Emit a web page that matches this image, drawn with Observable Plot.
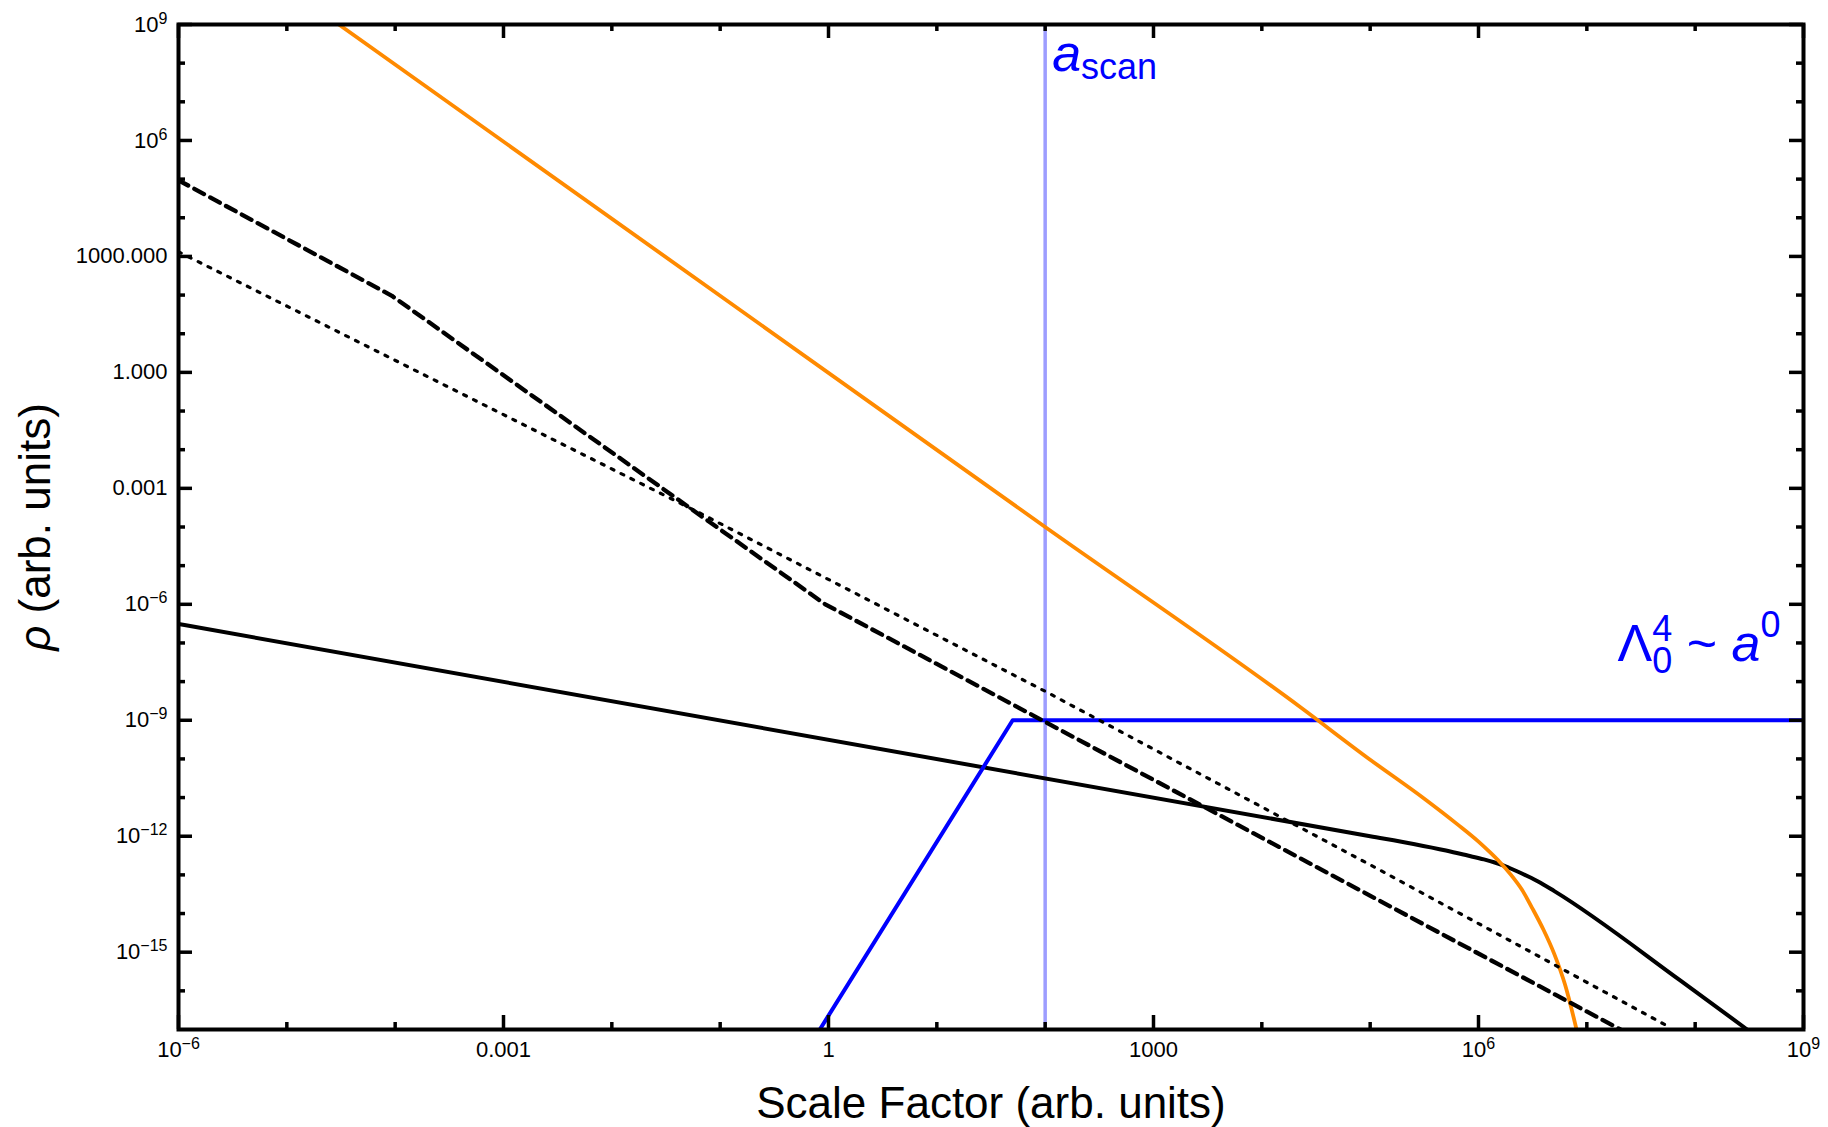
<!DOCTYPE html>
<html><head><meta charset="utf-8">
<script src="https://cdn.jsdelivr.net/npm/d3@7"></script>
<script src="https://cdn.jsdelivr.net/npm/@observablehq/plot@0.6"></script>
<style>html,body{margin:0;padding:0;background:#fff;} svg{display:block;}</style>
</head><body><div id="chart"></div>
<script>
// ---- data (as log10 exponents) ----
const xDomain = [1e-6, 1e9];
const yDomain = [1e-17, 1e9];
const xMajorTicks = [1e-6, 1e-3, 1, 1e3, 1e6, 1e9];
const xMajorLabels = ["10^−6", "0.001", "1", "1000", "10^6", "10^9"];
const xMinorTicks = [1e-5, 1e-4, 1e-2, 1e-1, 10, 100, 1e4, 1e5, 1e7, 1e8];
const yMajorTicks = [1e9, 1e6, 1e3, 1, 1e-3, 1e-6, 1e-9, 1e-12, 1e-15];
const yMajorLabels = ["10^9", "10^6", "1000.000", "1.000", "0.001", "10^−6", "10^−9", "10^−12", "10^−15"];
const yMinorTicks = [1e8, 1e7, 1e5, 1e4, 100, 10, 0.1, 0.01, 1e-4, 1e-5, 1e-7, 1e-8, 1e-10, 1e-11, 1e-13, 1e-14, 1e-16];

// orange curve (log10 a, log10 rho)
const orangeLogA   = [-4.52, 2.0, 4.36, 5.0, 5.5, 5.8, 6.0, 6.1, 6.2, 6.3, 6.4, 6.5, 6.6, 6.7, 6.8, 6.905];
const orangeLogRho = [9.0, -4.0, -8.67, -10.02, -11.03, -11.68, -12.14, -12.40, -12.68, -13.0, -13.38, -13.88, -14.42, -15.05, -15.85, -17.0];
// solid black curve
const blackLogA   = [-6.0, 5.0, 5.4, 5.7, 5.9, 6.05, 6.15, 6.25, 6.35, 6.45, 6.55, 6.7, 7.865, 8.48];
const blackLogRho = [-6.51, -12.0, -12.2, -12.37, -12.5, -12.6, -12.68, -12.78, -12.9, -13.03, -13.17, -13.42, -15.735, -17.0];
// dashed black
const dashedLogA   = [-6.0, -4.03, -0.03, 7.31];
const dashedLogRho = [4.97, 1.98, -6.0, -17.0];
// dotted black
const dottedLogA   = [-6.0, -1.18, 2.0, 5.1, 7.77];
const dottedLogRho = [3.12, -3.65, -8.25, -12.89, -16.95];
// blue
const blueLogA   = [-0.08, 1.70, 9.0];
const blueLogRho = [-17.0, -9.0, -9.0];
// a_scan
const aScan = 100;

const toRows = (lx, ly) => lx.map((x, i) => ({a: 10 ** x, rho: 10 ** ly[i]}));
const xLab = new Map(xMajorTicks.map((d, i) => [d, xMajorLabels[i]]));
const yLab = new Map(yMajorTicks.map((d, i) => [d, yMajorLabels[i]]));

const W = 1828, H = 1127;
const mL = 178, mR = 25, mT = 24, mB = 98;
const innerW = W - mL - mR, innerH = H - mT - mB;
const FONT = "'Liberation Sans', Arial, Helvetica, sans-serif";

const svg = Plot.plot({
  width: W, height: H,
  marginLeft: mL, marginRight: mR, marginTop: mT, marginBottom: mB,
  style: {fontFamily: FONT, background: "#fff", color: "#000"},
  x: {type: "log", domain: xDomain},
  y: {type: "log", domain: yDomain},
  marks: [
    Plot.ruleX([aScan], {x: d => d, stroke: "#9d9dff", strokeWidth: 3.5}),
    Plot.line(toRows(blackLogA, blackLogRho), {x: "a", y: "rho", stroke: "#000", strokeWidth: 4, curve: "monotone-x", clip: true}),
    Plot.line(toRows(blueLogA, blueLogRho), {x: "a", y: "rho", stroke: "#0000ff", strokeWidth: 4, clip: true}),
    Plot.line(toRows(orangeLogA, orangeLogRho), {x: "a", y: "rho", stroke: "#ff8a00", strokeWidth: 3.8, curve: "monotone-x", clip: true}),
    Plot.line(toRows(dashedLogA, dashedLogRho), {x: "a", y: "rho", stroke: "#000", strokeWidth: 4.3, strokeDasharray: "11,7", clip: true}),
    Plot.line(toRows(dottedLogA, dottedLogRho), {x: "a", y: "rho", stroke: "#000", strokeWidth: 3.2, strokeDasharray: "3,8", clip: true}),
    // ticks (inward, all four sides)
    Plot.tickX(xMajorTicks, {x: d => d, stroke: "#000", strokeWidth: 3.5, insetTop: innerH - 14}),
    Plot.tickX(xMajorTicks, {x: d => d, stroke: "#000", strokeWidth: 3.5, insetBottom: innerH - 14}),
    Plot.tickX(xMinorTicks, {x: d => d, stroke: "#000", strokeWidth: 3.5, insetTop: innerH - 7}),
    Plot.tickX(xMinorTicks, {x: d => d, stroke: "#000", strokeWidth: 3.5, insetBottom: innerH - 7}),
    Plot.tickY(yMajorTicks, {y: d => d, stroke: "#000", strokeWidth: 3.5, insetRight: innerW - 14}),
    Plot.tickY(yMajorTicks, {y: d => d, stroke: "#000", strokeWidth: 3.5, insetLeft: innerW - 14}),
    Plot.tickY(yMinorTicks, {y: d => d, stroke: "#000", strokeWidth: 3.5, insetRight: innerW - 7}),
    Plot.tickY(yMinorTicks, {y: d => d, stroke: "#000", strokeWidth: 3.5, insetLeft: innerW - 7}),
    Plot.frame({stroke: "#000", strokeWidth: 4}),
    // tick labels
    Plot.axisX(xMajorTicks, {anchor: "bottom", tickSize: 0, tickPadding: 12, fontSize: 22, tickFormat: d => xLab.get(d), label: null}),
    Plot.axisY(yMajorTicks, {anchor: "left", tickSize: 0, tickPadding: 11, fontSize: 22, tickFormat: d => yLab.get(d), label: null}),
    // axis titles
    Plot.text(["Scale Factor (arb. units)"], {frameAnchor: "bottom", textAnchor: "middle", lineAnchor: "middle", dy: 74, fontSize: 44, fill: "#000"}),
    Plot.text(["ρ (arb. units)"], {frameAnchor: "left", textAnchor: "middle", lineAnchor: "middle", dx: -143, rotate: -90, fontSize: 44, fill: "#000"}),
    // annotations
    Plot.text([{a: aScan, rho: 1e9, t: "a_scan"}], {x: "a", y: "rho", text: "t", textAnchor: "start", lineAnchor: "bottom", dx: 7, dy: 46, fontSize: 52, fill: "#0000ff"}),
    Plot.text([{a: 1e9, rho: 1e-9, t: "LAMBDA"}], {x: "a", y: "rho", text: "t", textAnchor: "end", lineAnchor: "bottom", dx: -23, dy: -59, fontSize: 52, fill: "#0000ff"})
  ]
});

// ---- rich text post-processing ----
const NS = "http://www.w3.org/2000/svg";
function tspan(txt, attrs) {
  const t = document.createElementNS(NS, "tspan");
  for (const k in attrs) t.setAttribute(k, attrs[k]);
  t.textContent = txt;
  return t;
}
svg.querySelectorAll("text").forEach(el => {
  const s = el.textContent;
  if (s.includes("^") && !s.includes("_")) {
    const [base, exp] = s.split("^");
    el.textContent = "";
    el.appendChild(tspan(base, {}));
    el.appendChild(tspan(exp, {"font-size": 16, dy: -8}));
  } else if (s === "a_scan") {
    el.textContent = "";
    el.appendChild(tspan("a", {"font-style": "italic"}));
    el.appendChild(tspan("scan", {"font-size": 36, dy: 8}));
  } else if (s === "LAMBDA") {
    el.textContent = "";
    el.appendChild(tspan("Λ", {}));
    el.appendChild(tspan("0", {"font-size": 36, dy: 12}));
    el.appendChild(tspan("4", {"font-size": 36, dx: -20, dy: -32}));
    el.appendChild(tspan(" ~ ", {dy: 20}));
    el.appendChild(tspan("a", {"font-style": "italic"}));
    el.appendChild(tspan("0", {"font-size": 36, dy: -24}));
  } else if (s.startsWith("ρ")) {
    el.textContent = "";
    el.appendChild(tspan("ρ", {"font-style": "italic"}));
    el.appendChild(tspan(s.slice(1), {}));
  }
});

document.getElementById("chart").appendChild(svg);
</script>
</body></html>
